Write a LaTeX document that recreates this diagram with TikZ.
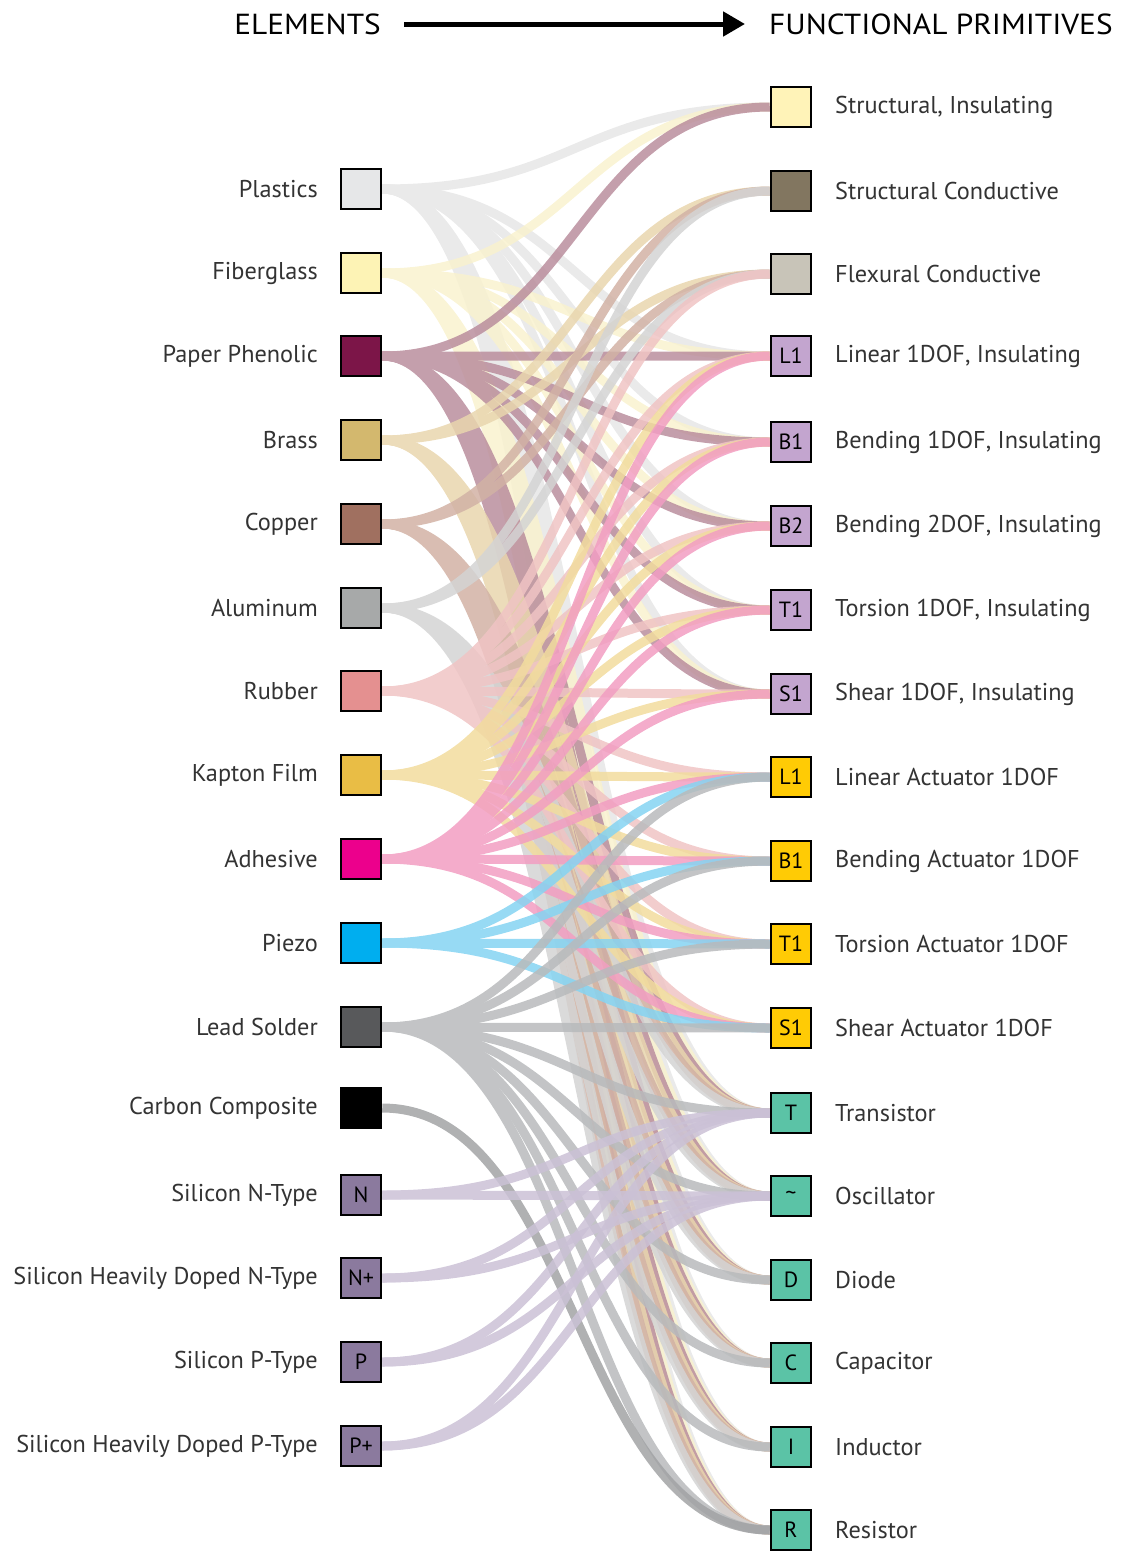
\documentclass[tikz,border=0pt]{standalone}
\usepackage{fontspec}
\setmainfont{PT Sans}
\usetikzlibrary{backgrounds,arrows.meta}
\definecolor{txt}{HTML}{333333}
% element fills
\definecolor{fPla}{HTML}{E6E7E8}
\definecolor{fFib}{HTML}{FDF3B5}
\definecolor{fPap}{HTML}{7C1548}
\definecolor{fBra}{HTML}{D3B86E}
\definecolor{fCop}{HTML}{A07060}
\definecolor{fAlu}{HTML}{A7A9A9}
\definecolor{fRub}{HTML}{E49090}
\definecolor{fKap}{HTML}{E9BD45}
\definecolor{fAdh}{HTML}{EC008C}
\definecolor{fPie}{HTML}{00AEEF}
\definecolor{fLea}{HTML}{58595B}
\definecolor{fCar}{HTML}{000000}
\definecolor{fSil}{HTML}{8B7A9E}
% link colours
\definecolor{cPla}{HTML}{E6E6E6}
\definecolor{cFib}{HTML}{F9F2CF}
\definecolor{cPap}{HTML}{BA8E9D}
\definecolor{cBra}{HTML}{E9D6AE}
\definecolor{cCop}{HTML}{D2B2A5}
\definecolor{cAlu}{HTML}{D4D4D4}
\definecolor{cRub}{HTML}{F0C4C4}
\definecolor{cKap}{HTML}{F2DC9E}
\definecolor{cAdh}{HTML}{F29EC2}
\definecolor{cPie}{HTML}{85D4F2}
\definecolor{cLea}{HTML}{B8BABC}
\definecolor{cCar}{HTML}{A2A3A5}
\definecolor{cSil}{HTML}{CBC1D6}
% primitive fills
\definecolor{pSI}{HTML}{FFF3B8}
\definecolor{pSC}{HTML}{827660}
\definecolor{pFC}{HTML}{C8C4B8}
\definecolor{pIns}{HTML}{C3A5CF}
\definecolor{pAct}{HTML}{FFCB05}
\definecolor{pEl}{HTML}{5BC3A6}
\newcommand\mylinks[3]{%
  \begin{scope}[transparency group, opacity=0.85]
    \foreach \t in {#3}
      \draw[link, draw=#1] (#2.east) .. controls +(194,0) and +(-194,0) .. (\t.west);
  \end{scope}}
\begin{document}
\begin{tikzpicture}[x=1pt,y=-1pt,
  box/.style={draw=black, line width=2.5pt, minimum size=40pt, inner sep=0pt,
    font=\fontsize{22}{22}\selectfont, text=black},
  lab/.style={font=\fontsize{24.3}{26}\selectfont, text=txt, inner sep=0pt},
  ttl/.style={font=\fontsize{29}{30}\selectfont, text=black, inner sep=0pt},
  link/.style={line width=9pt}]
\useasboundingbox (0,0) rectangle (1126,1553);
% titles
\node[ttl, anchor=east] (tl) at (381,24) {\scalebox{1.08}[1]{ELEMENTS}};
\node[ttl, anchor=west] (tr) at (769,24) {\scalebox{1.08}[1]{FUNCTIONAL PRIMITIVES}};
\draw[line width=5pt, -{Triangle[length=22pt,width=24pt]}, shorten <=23pt, shorten >=24pt] (tl.east) -- (tr.west);
% left nodes
\foreach \n/\y/\c/\t/\l in {
  l1/189/fPla//Plastics,
  l2/273/fFib//Fiberglass,
  l3/356/fPap//Paper Phenolic,
  l4/440/fBra//Brass,
  l5/524/fCop//Copper,
  l6/608/fAlu//Aluminum,
  l7/691/fRub//Rubber,
  l8/775/fKap//Kapton Film,
  l9/859/fAdh//Adhesive,
  l10/943/fPie//Piezo,
  l11/1027/fLea//Lead Solder,
  l12/1108/fCar//Carbon Composite,
  l13/1195/fSil/N/Silicon N-Type,
  l14/1278/fSil/N+/Silicon Heavily Doped N-Type,
  l15/1362/fSil/P/Silicon P-Type,
  l16/1446/fSil/P+/Silicon Heavily Doped P-Type}{
  \node[box, fill=\c] (\n) at (361,\y) {\t};
  \node[lab, anchor=east] (\n t) at (318,\y) {\l};
}
% right nodes
\foreach \n/\y/\c/\t/\l in {
  r1/107/pSI//{Structural, Insulating},
  r2/191/pSC//Structural Conductive,
  r3/274/pFC//Flexural Conductive,
  r4/356/pIns/L1/{Linear 1DOF, Insulating},
  r5/442/pIns/B1/{Bending 1DOF, Insulating},
  r6/526/pIns/B2/{Bending 2DOF, Insulating},
  r7/610/pIns/T1/{Torsion 1DOF, Insulating},
  r8/694/pIns/S1/{Shear 1DOF, Insulating},
  r9/777/pAct/L1/Linear Actuator 1DOF,
  r10/861/pAct/B1/Bending Actuator 1DOF,
  r11/944/pAct/T1/Torsion Actuator 1DOF,
  r12/1028/pAct/S1/Shear Actuator 1DOF,
  r13/1113/pEl/T/Transistor,
  r14/1196/pEl/\textasciitilde/Oscillator,
  r15/1280/pEl/D/Diode,
  r16/1363/pEl/C/Capacitor,
  r17/1447/pEl/I/Inductor,
  r18/1530/pEl/R/Resistor}{
  \node[box, fill=\c] (\n) at (791,\y) {\t};
  \node[lab, anchor=west] (\n t) at (835,\y) {\l};
}
% links
\begin{pgfonlayer}{background}
\mylinks{cPla}{l1}{r1,r4,r5,r6,r7,r8,r13,r14,r15,r16,r17,r18}
\mylinks{cFib}{l2}{r1,r4,r5,r6,r7,r8,r13,r14,r15,r16,r17,r18}
\mylinks{cPap}{l3}{r1,r4,r5,r6,r7,r8,r13,r14,r15,r16,r17,r18}
\mylinks{cBra}{l4}{r2,r3,r13,r14,r15,r16,r17,r18}
\mylinks{cCop}{l5}{r2,r3,r13,r14,r15,r16,r17,r18}
\mylinks{cAlu}{l6}{r2,r3,r13,r14,r15,r16,r17,r18}
\mylinks{cRub}{l7}{r3,r4,r5,r6,r7,r8,r9,r10,r11,r12}
\mylinks{cKap}{l8}{r4,r5,r6,r7,r8,r9,r10,r11,r12}
\mylinks{cAdh}{l9}{r4,r5,r6,r7,r8,r9,r10,r11,r12}
\mylinks{cPie}{l10}{r9,r10,r11,r12}
\mylinks{cLea}{l11}{r9,r10,r11,r12,r13,r14,r15,r16,r17,r18}
\mylinks{cCar}{l12}{r18}
\mylinks{cSil}{l13}{r13,r14}
\mylinks{cSil}{l14}{r13,r14}
\mylinks{cSil}{l15}{r13,r14}
\mylinks{cSil}{l16}{r13,r14}
\end{pgfonlayer}
\end{tikzpicture}
\end{document}
